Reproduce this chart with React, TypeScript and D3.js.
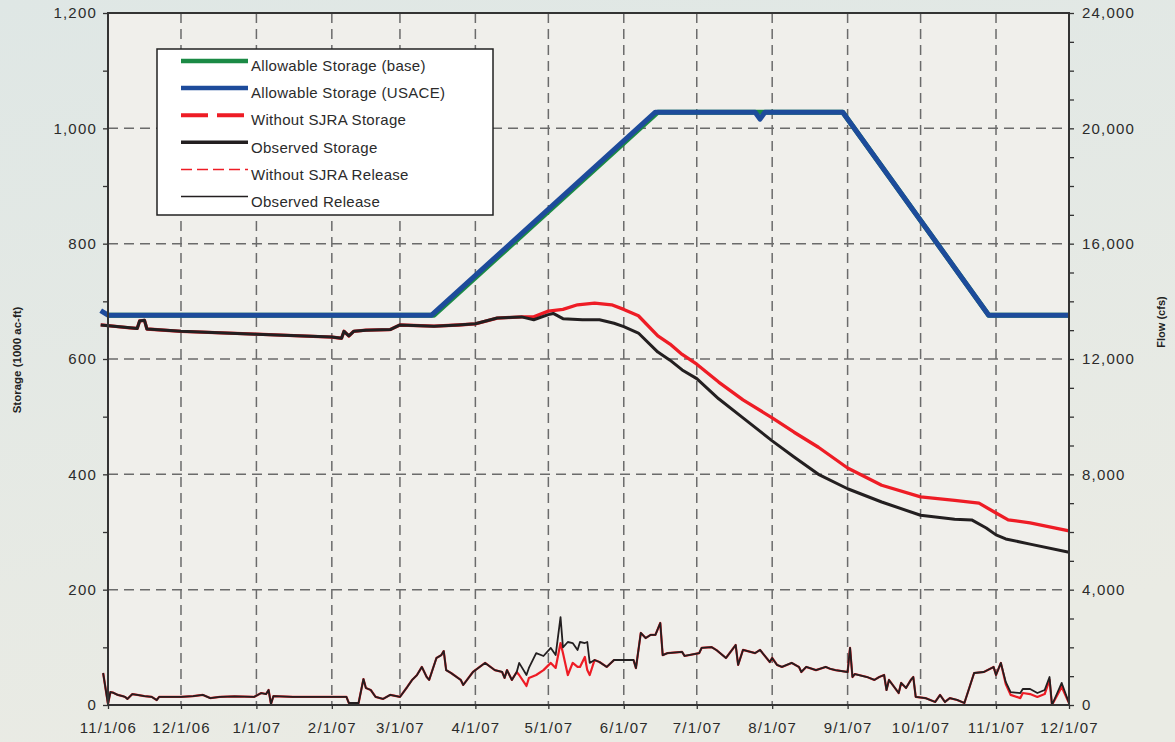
import { useEffect, useRef } from "react";
import * as d3 from "d3";

type Pt = [string, number];

// Storage series (1000 ac-ft)
const allowableBase: Pt[] = [
  ["11/1/06", 676], ["3/15/07", 676], ["6/15/07", 1028], ["8/30/07", 1028],
  ["10/29/07", 676], ["12/1/07", 676],
];

const allowableUsace: Pt[] = [
  ["10/29/06", 684], ["11/1/06", 676], ["3/14/07", 676], ["6/14/07", 1028],
  ["7/25/07", 1028], ["7/27/07", 1016], ["7/29/07", 1028], ["8/30/07", 1028],
  ["10/29/07", 676], ["12/1/07", 676],
];

const observedStorage: Pt[] = [
  ["10/29/06", 659], ["11/10/06", 654], ["11/13/06", 653], ["11/14/06", 666], ["11/16/06", 667],
  ["11/17/06", 652], ["12/1/06", 648], ["1/1/07", 643], ["2/1/07", 638], ["2/5/07", 636],
  ["2/6/07", 648], ["2/8/07", 640], ["2/10/07", 648], ["2/15/07", 650], ["2/25/07", 651],
  ["3/1/07", 659], ["3/15/07", 657], ["3/25/07", 659], ["4/1/07", 661], ["4/10/07", 671],
  ["4/20/07", 673], ["4/25/07", 668], ["5/1/07", 677], ["5/3/07", 679], ["5/7/07", 670],
  ["5/15/07", 668], ["5/22/07", 668], ["5/28/07", 662], ["6/1/07", 656], ["6/7/07", 645],
  ["6/15/07", 612], ["6/20/07", 598], ["6/25/07", 581], ["7/1/07", 566], ["7/10/07", 531],
  ["7/20/07", 498], ["8/1/07", 458], ["8/10/07", 430], ["8/20/07", 400], ["9/1/07", 375],
  ["9/15/07", 352], ["10/1/07", 329], ["10/15/07", 322], ["10/22/07", 321], ["10/28/07", 307],
  ["11/1/07", 295], ["11/5/07", 288], ["11/15/07", 279], ["12/1/07", 265],
];

const withoutSjraStorage: Pt[] = [
  ["10/29/06", 659], ["11/10/06", 654], ["11/13/06", 653], ["11/14/06", 666], ["11/16/06", 667],
  ["11/17/06", 652], ["12/1/06", 648], ["1/1/07", 643], ["2/1/07", 638], ["2/5/07", 636],
  ["2/6/07", 648], ["2/8/07", 640], ["2/10/07", 648], ["2/15/07", 650], ["2/25/07", 651],
  ["3/1/07", 659], ["3/15/07", 657], ["3/25/07", 659], ["4/1/07", 661], ["4/10/07", 671],
  ["4/20/07", 673], ["4/25/07", 673], ["5/1/07", 683], ["5/7/07", 686], ["5/13/07", 694],
  ["5/20/07", 697], ["5/27/07", 694], ["6/1/07", 686], ["6/7/07", 675], ["6/15/07", 640],
  ["6/20/07", 626], ["6/25/07", 608], ["7/1/07", 591], ["7/10/07", 560], ["7/20/07", 529],
  ["8/1/07", 498], ["8/10/07", 473], ["8/20/07", 447], ["9/1/07", 411], ["9/15/07", 381],
  ["10/1/07", 361], ["10/15/07", 355], ["10/25/07", 350], ["11/1/07", 333], ["11/6/07", 321],
  ["11/15/07", 316], ["12/1/07", 302],
];

// Release series (cfs)
const observedRelease: Pt[] = [
  ["10/30/06", 1110], ["11/1/06", 35], ["11/2/06", 450], ["11/3/06", 430], ["11/5/06", 350],
  ["11/7/06", 310], ["11/8/06", 280], ["11/9/06", 210], ["11/11/06", 380], ["11/13/06", 350],
  ["11/16/06", 310], ["11/19/06", 280], ["11/21/06", 170], ["11/22/06", 280], ["11/27/06", 280],
  ["12/1/06", 280], ["12/6/06", 310], ["12/10/06", 350], ["12/13/06", 240], ["12/17/06", 280],
  ["12/23/06", 300], ["12/31/06", 280], ["1/3/07", 415], ["1/5/07", 380], ["1/6/07", 520],
  ["1/7/07", 35], ["1/8/07", 310], ["1/16/07", 280], ["2/1/07", 280], ["2/7/07", 280],
  ["2/8/07", 70], ["2/12/07", 70], ["2/14/07", 900], ["2/15/07", 590], ["2/17/07", 520],
  ["2/19/07", 280], ["2/22/07", 210], ["2/25/07", 350], ["3/1/07", 280], ["3/4/07", 625],
  ["3/6/07", 870], ["3/8/07", 1040], ["3/10/07", 1320], ["3/12/07", 970], ["3/13/07", 870],
  ["3/16/07", 1630], ["3/18/07", 1730], ["3/19/07", 1870], ["3/20/07", 1210], ["3/22/07", 1110],
  ["3/26/07", 870], ["3/27/07", 695], ["3/31/07", 1145], ["4/5/07", 1460], ["4/9/07", 1210],
  ["4/12/07", 1145], ["4/13/07", 940], ["4/14/07", 1210], ["4/16/07", 870], ["4/18/07", 1145],
  ["4/19/07", 1460], ["4/22/07", 1040], ["4/23/07", 1285], ["4/26/07", 1800], ["4/29/07", 1700],
  ["5/2/07", 1980], ["5/4/07", 1730], ["5/6/07", 3050], ["5/7/07", 2000], ["5/9/07", 2185],
  ["5/11/07", 2150], ["5/13/07", 1910], ["5/14/07", 2185], ["5/16/07", 2150], ["5/17/07", 2185],
  ["5/18/07", 1460], ["5/20/07", 1560], ["5/22/07", 1490], ["5/25/07", 1320], ["5/28/07", 1560],
  ["6/2/07", 1560], ["6/5/07", 1560], ["6/6/07", 1280], ["6/8/07", 2500], ["6/10/07", 2320],
  ["6/12/07", 2430], ["6/14/07", 2430], ["6/16/07", 2845], ["6/17/07", 1730], ["6/19/07", 1800],
  ["6/25/07", 1840], ["6/26/07", 1700], ["7/2/07", 1800], ["7/3/07", 1980], ["7/7/07", 2010],
  ["7/9/07", 1910], ["7/13/07", 1630], ["7/17/07", 2080], ["7/18/07", 1390], ["7/20/07", 1910],
  ["7/25/07", 1800], ["7/27/07", 1910], ["7/31/07", 1490], ["8/1/07", 1630], ["8/3/07", 1390],
  ["8/5/07", 1320], ["8/9/07", 1460], ["8/12/07", 1320], ["8/13/07", 1145], ["8/15/07", 1320],
  ["8/19/07", 1210], ["8/23/07", 1320], ["8/25/07", 1250], ["8/27/07", 1210], ["9/1/07", 1145],
  ["9/2/07", 1980], ["9/3/07", 970], ["9/4/07", 1075], ["9/9/07", 970], ["9/12/07", 870],
  ["9/14/07", 970], ["9/16/07", 1040], ["9/17/07", 520], ["9/18/07", 870], ["9/22/07", 415],
  ["9/23/07", 765], ["9/25/07", 590], ["9/27/07", 870], ["9/28/07", 970], ["9/29/07", 280],
  ["10/3/07", 240], ["10/7/07", 105], ["10/9/07", 350], ["10/11/07", 105], ["10/13/07", 240],
  ["10/16/07", 175], ["10/19/07", 70], ["10/23/07", 1110], ["10/27/07", 1145], ["10/31/07", 1320],
  ["11/1/07", 1040], ["11/3/07", 1460], ["11/5/07", 800], ["11/7/07", 450], ["11/11/07", 415],
  ["11/12/07", 555], ["11/15/07", 555], ["11/18/07", 415], ["11/21/07", 520], ["11/23/07", 970],
  ["11/24/07", 0], ["11/28/07", 765], ["12/1/07", 70],
];

// Dates where the "without SJRA" release differs from the observed one
const withoutSjraReleaseDiffs: Pt[] = [
  ["4/19/07", 1040], ["4/22/07", 660], ["4/23/07", 935], ["4/26/07", 1040], ["4/29/07", 1210],
  ["5/2/07", 1460], ["5/4/07", 1285], ["5/6/07", 2150], ["5/7/07", 1800], ["5/9/07", 1040],
  ["5/11/07", 1460], ["5/13/07", 1320], ["5/14/07", 1320], ["5/16/07", 1665], ["5/17/07", 1210],
  ["5/18/07", 1040], ["11/5/07", 730], ["11/7/07", 350], ["11/11/07", 240], ["11/12/07", 415],
  ["11/15/07", 380], ["11/18/07", 280], ["11/21/07", 380], ["11/23/07", 870], ["11/28/07", 625],
];

const legendLabels = [
  "Allowable Storage (base)",
  "Allowable Storage (USACE)",
  "Without SJRA Storage",
  "Observed Storage",
  "Without SJRA Release",
  "Observed Release",
];

const W = 1175;
const H = 742;
const parse = d3.timeParse("%m/%d/%y");

export default function App() {
  const ref = useRef<SVGSVGElement>(null);

  useEffect(() => {
    if (!ref.current) return;
    const svg = d3.select(ref.current);
    svg.selectAll("*").remove();

    const left = 108, right = 1069, top = 13, bottom = 705;
    const font = "'Liberation Sans', Arial, sans-serif";
    const ink = "#2b2b2b";
    const green = "#1b8a45", blue = "#1d4b9b", red = "#ee1c25", black = "#231f20";

    const x = d3.scaleTime()
      .domain([parse("11/1/06") as Date, parse("12/1/07") as Date])
      .range([left, right]);
    const yL = d3.scaleLinear().domain([0, 1200]).range([bottom, top]);
    const yR = d3.scaleLinear().domain([0, 24000]).range([bottom, top]);

    // background
    const defs = svg.append("defs");
    const bg = defs.append("linearGradient").attr("id", "bg").attr("x1", 0).attr("y1", 0).attr("x2", 0.3).attr("y2", 1);
    bg.append("stop").attr("offset", "0%").attr("stop-color", "#dfe7e5");
    bg.append("stop").attr("offset", "100%").attr("stop-color", "#eaebe4");
    svg.append("rect").attr("width", W).attr("height", H).attr("fill", "url(#bg)");
    svg.append("rect")
      .attr("x", left).attr("y", top)
      .attr("width", right - left).attr("height", bottom - top)
      .attr("fill", "#f0efeb");

    // grid
    const months = d3.timeMonth.range(parse("11/1/06") as Date, parse("12/2/07") as Date);
    const grid = svg.append("g")
      .attr("stroke", "#6b6b6b").attr("stroke-width", 1.5).attr("stroke-dasharray", "10,6");
    grid.selectAll(".v").data(months.slice(1, -1)).enter().append("line")
      .attr("x1", d => x(d)).attr("x2", d => x(d))
      .attr("y1", top).attr("y2", bottom);
    grid.selectAll(".h").data([200, 400, 600, 800, 1000]).enter().append("line")
      .attr("x1", left).attr("x2", right)
      .attr("y1", d => yL(d)).attr("y2", d => yL(d));

    const lineL = d3.line<Pt>().x(d => x(parse(d[0]) as Date)).y(d => yL(d[1]));
    const lineR = d3.line<Pt>().x(d => x(parse(d[0]) as Date)).y(d => yR(d[1]));

    const diffMap = new Map(withoutSjraReleaseDiffs.map(d => [d[0], d[1]]));
    const withoutSjraRelease: Pt[] = observedRelease.map(d =>
      diffMap.has(d[0]) ? [d[0], diffMap.get(d[0]) as number] : d);

    const draw = (data: Pt[], line: d3.Line<Pt>, color: string, width: number) =>
      svg.append("path").datum(data)
        .attr("fill", "none").attr("stroke", color).attr("stroke-width", width)
        .attr("stroke-linejoin", "round").attr("d", line);

    draw(allowableBase, lineL, green, 5);
    draw(allowableUsace, lineL, blue, 5);
    draw(withoutSjraRelease, lineR, red, 2.2);
    draw(observedRelease, lineR, black, 1.8);
    draw(withoutSjraStorage, lineL, red, 3.3);
    draw(observedStorage, lineL, black, 3);

    // frame
    svg.append("rect")
      .attr("x", left).attr("y", top)
      .attr("width", right - left).attr("height", bottom - top)
      .attr("fill", "none").attr("stroke", "#333").attr("stroke-width", 2);

    const styleAxis = (g: d3.Selection<SVGGElement, unknown, null, undefined>) => {
      g.select(".domain").remove();
      g.selectAll(".tick line").attr("stroke", "#333").attr("stroke-width", 1.3);
      g.selectAll(".tick text")
        .attr("fill", ink)
        .attr("font-family", font)
        .attr("font-size", 15)
        .attr("letter-spacing", "1.2px");
    };

    const fmt = d3.format(",");
    svg.append("g")
      .attr("transform", `translate(${left},0)`)
      .call(d3.axisLeft(yL).tickValues(d3.range(0, 1201, 100)).tickSize(5).tickPadding(6)
        .tickFormat(d => (+d % 200 === 0 ? fmt(+d) : "")))
      .call(styleAxis);

    svg.append("g")
      .attr("transform", `translate(${right},0)`)
      .call(d3.axisRight(yR).tickValues(d3.range(0, 24001, 1000)).tickSize(5).tickPadding(8)
        .tickFormat(d => (+d % 4000 === 0 ? fmt(+d) : "")))
      .call(styleAxis);

    const fmtDate = d3.timeFormat("%-m/%-d/%y");
    svg.append("g")
      .attr("transform", `translate(0,${bottom})`)
      .call(d3.axisBottom(x).tickValues(months).tickSize(4).tickPadding(13)
        .tickFormat(d => fmtDate(d as Date)))
      .call(styleAxis);

    // axis titles
    svg.append("text")
      .attr("transform", "translate(21,360) rotate(-90)")
      .attr("text-anchor", "middle")
      .attr("font-family", font).attr("font-weight", "bold").attr("font-size", 11.5)
      .attr("fill", "#222")
      .text("Storage (1000 ac-ft)");
    svg.append("text")
      .attr("transform", "translate(1165,322) rotate(-90)")
      .attr("text-anchor", "middle")
      .attr("font-family", font).attr("font-weight", "bold").attr("font-size", 11)
      .attr("fill", "#222")
      .text("Flow (cfs)");

    // legend
    const legendStyles = [
      { color: green, width: 4.5, dash: null },
      { color: blue, width: 4.5, dash: null },
      { color: red, width: 4, dash: "27,9" },
      { color: black, width: 3.5, dash: null },
      { color: red, width: 1.5, dash: "11,5" },
      { color: black, width: 1.5, dash: null },
    ];
    const legend = svg.append("g");
    legend.append("rect")
      .attr("x", 157).attr("y", 49).attr("width", 336).attr("height", 166)
      .attr("fill", "#fff").attr("stroke", "#222").attr("stroke-width", 1.5);
    legendLabels.forEach((label, i) => {
      const ly = 61 + i * 27.1;
      const s = legendStyles[i];
      legend.append("line")
        .attr("x1", 181).attr("x2", 248).attr("y1", ly).attr("y2", ly)
        .attr("stroke", s.color).attr("stroke-width", s.width)
        .attr("stroke-dasharray", s.dash);
      legend.append("text")
        .attr("x", 251).attr("y", ly + 5).attr("dy", "0.35em")
        .attr("font-family", font).attr("font-size", 15).attr("letter-spacing", "0.3px")
        .attr("fill", ink)
        .text(label);
    });
  }, []);

  return (
    <svg
      ref={ref}
      width={W}
      height={H}
      style={{ position: "absolute", left: 0, top: 0 }}
    />
  );
}
